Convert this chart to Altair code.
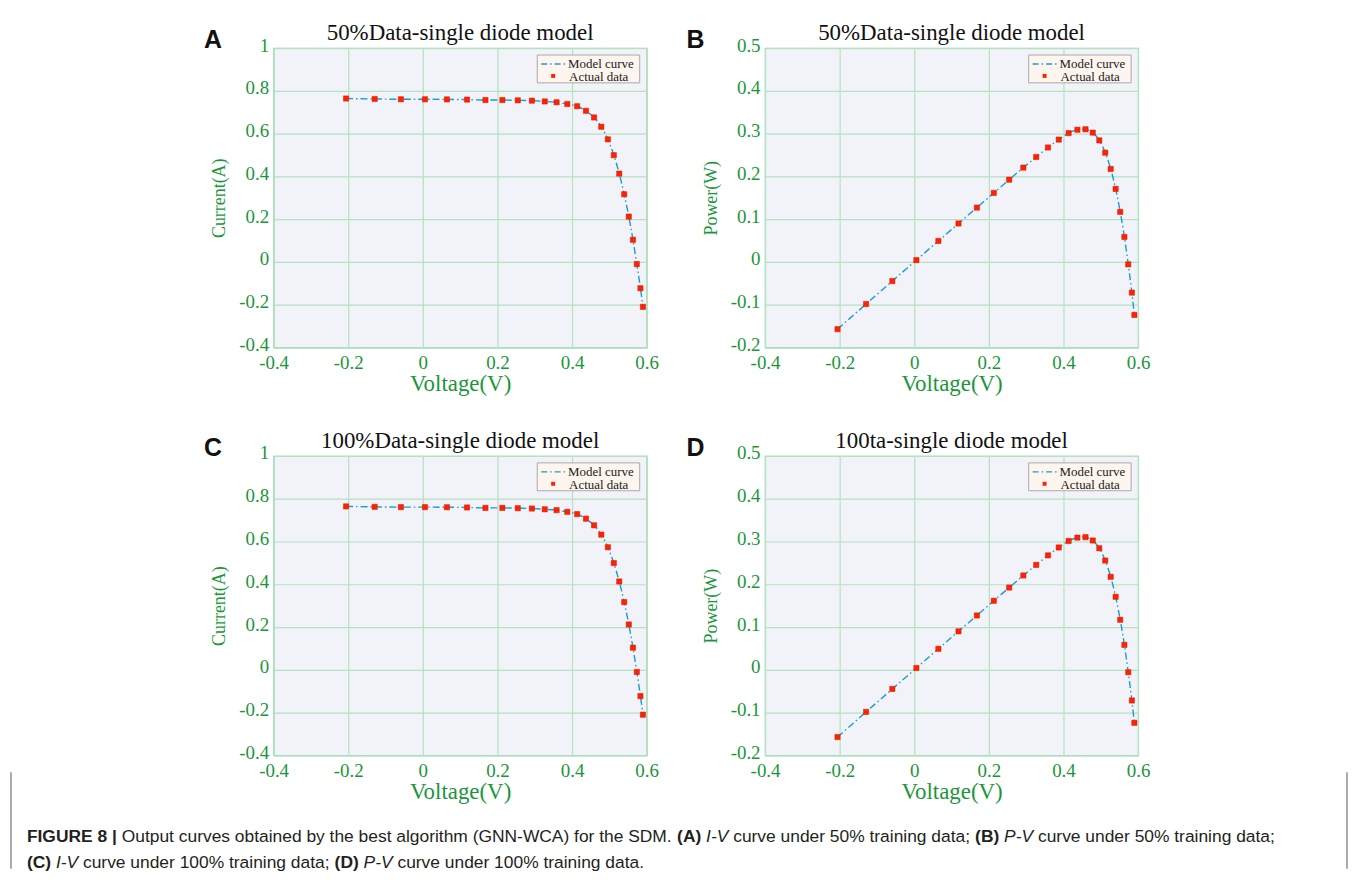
import altair as alt
import pandas as pd

# ---------------- data ----------------
voltage = [-0.2057, -0.1291, -0.0588, 0.0057, 0.0646, 0.1185, 0.1678, 0.2132, 0.2545,
           0.2924, 0.3269, 0.3585, 0.3873, 0.4137, 0.4373, 0.4590, 0.4784, 0.4960,
           0.5119, 0.5265, 0.5398, 0.5521, 0.5633, 0.5736, 0.5833, 0.5900]
current = [0.7640, 0.7620, 0.7605, 0.7605, 0.7600, 0.7590, 0.7570, 0.7570, 0.7555,
           0.7540, 0.7505, 0.7465, 0.7385, 0.7280, 0.7065, 0.6755, 0.6320, 0.5730,
           0.4990, 0.4130, 0.3165, 0.2120, 0.1035, -0.0100, -0.1230, -0.2100]
power = [-0.1572, -0.0984, -0.0447, 0.0043, 0.0491, 0.0899, 0.1270, 0.1614, 0.1923,
         0.2205, 0.2453, 0.2676, 0.2860, 0.3012, 0.3090, 0.3101, 0.3023, 0.2842,
         0.2554, 0.2174, 0.1708, 0.1170, 0.0583, -0.0057, -0.0717, -0.1239]

x_ticks = [-0.4, -0.2, 0, 0.2, 0.4, 0.6]
i_ticks = [-0.4, -0.2, 0, 0.2, 0.4, 0.6, 0.8, 1]
p_ticks = [-0.2, -0.1, 0, 0.1, 0.2, 0.3, 0.4, 0.5]

titles = ["50%Data-single diode model", "50%Data-single diode model",
          "100%Data-single diode model", "100ta-single diode model"]
letters = ["A", "B", "C", "D"]

caption_line1 = [("FIGURE 8 |", "b"),
                 (" Output curves obtained by the best algorithm (GNN-WCA) for the SDM. ", "n"),
                 ("(A)", "b"), (" ", "n"), ("I-V", "i"),
                 (" curve under 50% training data; ", "n"),
                 ("(B)", "b"), (" ", "n"), ("P-V", "i"),
                 (" curve under 50% training data;", "n")]
caption_line2 = [("(C)", "b"), (" ", "n"), ("I-V", "i"),
                 (" curve under 100% training data; ", "n"),
                 ("(D)", "b"), (" ", "n"), ("P-V", "i"),
                 (" curve under 100% training data.", "n")]

# ---------------- styling ----------------
W, H = 375, 301
GREEN = "#1a963a"
GRID = "#b4e2c2"
BORDER = "#86d09c"
BG = "#f1f3f9"
BLUE = "#1a9bd4"
RED = "#ff2200"
SERIF = "Liberation Serif"
SANS = "Liberation Sans"
CAP_FS = 17.5

REG = {' ': 278, '(': 333, ')': 333, '-': 333, '.': 278, ';': 278, '|': 260, '%': 889,
       'A': 667, 'B': 667, 'C': 722, 'D': 722, 'E': 667, 'F': 611, 'G': 778, 'I': 278,
       'M': 833, 'N': 722, 'O': 778, 'P': 667, 'R': 722, 'S': 667, 'U': 722, 'V': 667,
       'W': 944, 'a': 556, 'b': 556, 'c': 500, 'd': 556, 'e': 556, 'f': 278, 'g': 556,
       'h': 556, 'i': 222, 'l': 222, 'm': 833, 'n': 556, 'o': 556, 'p': 556, 'r': 333,
       's': 500, 't': 278, 'u': 556, 'v': 500, 'y': 500}
BOLD = {' ': 278, '(': 333, ')': 333, '|': 280, '8': 556, 'A': 722, 'B': 722, 'C': 722,
        'D': 722, 'E': 667, 'F': 611, 'G': 778, 'I': 278, 'R': 722, 'U': 722}


def text_w(s, style):
    tab = BOLD if style == "b" else REG
    return sum(tab.get(ch, 556) for ch in s) * CAP_FS / 1000.0


def one():
    return alt.Chart(pd.DataFrame({"t": [""]}))


def text_layer(txt, x, y, **props):
    return alt.Chart(pd.DataFrame({"t": [txt]})).mark_text(**props).encode(
        x=alt.value(x), y=alt.value(y), text="t:N")


def caption_layers(segments, x0, y):
    layers = []
    cur = x0
    for s, st in segments:
        lead = len(s) - len(s.lstrip(" "))
        body = s.strip(" ")
        if body:
            props = dict(font=SANS, fontSize=CAP_FS, align="left", baseline="alphabetic",
                         color="#231f20")
            if st == "b":
                props["fontWeight"] = "bold"
            if st == "i":
                props["fontStyle"] = "italic"
            layers.append(text_layer(body, cur + lead * 278 * CAP_FS / 1000.0, y, **props))
        cur += text_w(s, st)
    return layers


def panel(yvals, ydom, yticks, ytitle, title, letter, letter_x, extra=None):
    df = pd.DataFrame({"V": voltage, "Y": yvals})
    xenc = alt.X("V:Q", scale=alt.Scale(domain=[-0.4, 0.6], nice=False, zero=False),
                 axis=alt.Axis(values=x_ticks, title="Voltage(V)",
                               labelExpr="toString(round(datum.value*10)/10)"))
    yenc = alt.Y("Y:Q", scale=alt.Scale(domain=ydom, nice=False, zero=False),
                 axis=alt.Axis(values=yticks, title=ytitle,
                               labelExpr="toString(round(datum.value*10)/10)"))
    base = alt.Chart(df)
    curve = base.mark_line(color=BLUE, strokeWidth=1.4, strokeDash=[7, 3, 1.5, 3],
                           interpolate="monotone").encode(x=xenc, y=yenc)
    pts = base.mark_square(size=28, color=RED, opacity=1, stroke="#d81800",
                           strokeWidth=0.5).encode(x="V:Q", y="Y:Q")
    # legend (drawn in the plot's top right corner)
    lx0, lx1, ly0, ly1 = W - 110, W - 7, 7, 35
    leg_box = one().mark_rect(fill="#fdf5ee", stroke="#a9a9a9", strokeWidth=1).encode(
        x=alt.value(lx0), x2=alt.value(lx1), y=alt.value(ly0), y2=alt.value(ly1))
    leg_line = one().mark_rule(color=BLUE, strokeWidth=1.4, strokeDash=[6, 3, 1.5, 3]).encode(
        x=alt.value(lx0 + 4), x2=alt.value(lx0 + 28), y=alt.value(ly0 + 9))
    leg_pt = one().mark_square(size=16, color=RED, opacity=1).encode(
        x=alt.value(lx0 + 16), y=alt.value(ly0 + 21))
    leg_t1 = text_layer("Model curve", lx0 + 31, ly0 + 13, font=SERIF, fontSize=13,
                        align="left", baseline="alphabetic", color="#222222")
    leg_t2 = text_layer("Actual data", lx0 + 32, ly0 + 26, font=SERIF, fontSize=13,
                        align="left", baseline="alphabetic", color="#222222")
    ttl = text_layer(title, W / 2, -8, font=SERIF, fontSize=23, align="center",
                     baseline="alphabetic", color="#111111")
    let = text_layer(letter, letter_x, 0, font=SANS, fontSize=25, fontWeight="bold",
                     align="left", baseline="alphabetic", color="#111111")
    layers = [curve, pts, leg_box, leg_line, leg_pt, leg_t1, leg_t2, ttl, let]
    if extra:
        layers += extra
    return alt.layer(*layers).properties(width=W, height=H)


# anchor at the page's top margin and the caption block (placed relative to panel C)
anchor = one().mark_rule(color="white", strokeWidth=1).encode(
    x=alt.value(0), x2=alt.value(4), y=alt.value(-36.5))
frame_l = one().mark_rule(color="#555555", strokeWidth=1).encode(
    x=alt.value(-264), y=alt.value(318), y2=alt.value(415))
frame_r = one().mark_rule(color="#555555", strokeWidth=1).encode(
    x=alt.value(1079), y=alt.value(318), y2=alt.value(415))
cap = caption_layers(caption_line1, 25 - 273, 843 - 455) + \
    caption_layers(caption_line2, 25 - 273, 869 - 455)

pA = panel(current, [-0.4, 1], i_ticks, "Current(A)", titles[0], letters[0], -70, [anchor])
pB = panel(power, [-0.2, 0.5], p_ticks, "Power(W)", titles[1], letters[1], -79)
pC = panel(current, [-0.4, 1], i_ticks, "Current(A)", titles[2], letters[2], -70,
           [frame_l, frame_r] + cap)
pD = panel(power, [-0.2, 0.5], p_ticks, "Power(W)", titles[3], letters[3], -79)

chart = alt.ConcatChart(
    concat=[pA, pB, pC, pD], columns=2,
    spacing=alt.RowColnumber(row=109, column=119), bounds="flush",
).properties(
    padding={"left": 1, "top": 0, "right": 0, "bottom": 0}
).configure_axis(
    labelFont=SERIF, labelFontSize=19, labelColor=GREEN,
    titleFont=SERIF, titleColor=GREEN, titleFontWeight="normal",
    gridColor=GRID, gridOpacity=1, gridWidth=1.2,
    domain=False, ticks=False, tickSize=0, labelPadding=5,
    labelFlush=False, labelOverlap=False,
).configure_axisX(
    titleFontSize=23, titlePadding=0, labelPadding=6,
).configure_axisY(
    titleFontSize=18, titlePadding=10, labelOffset=-3,
).configure_view(
    stroke=BORDER, strokeWidth=1.2, fill=BG,
)

chart.save("out.html", embed_options={"renderer": "svg", "actions": False})
